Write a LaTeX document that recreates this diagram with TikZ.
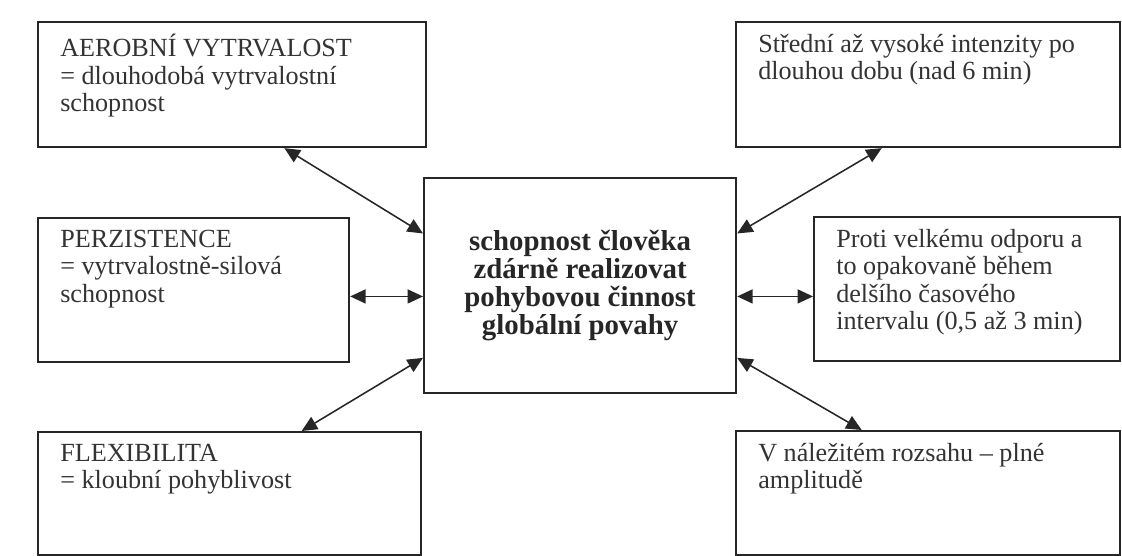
\documentclass[tikz,border=0pt]{standalone}
\usepackage{fontspec}
\setmainfont{Liberation Serif}
\usetikzlibrary{arrows.meta,positioning,calc}

\begin{document}
\begin{tikzpicture}[x=0.025cm,y=-0.025cm,
        box/.style={draw=black!85,line width=1.5pt,inner sep=0pt,anchor=north west},
        txt/.style={anchor=north west,align=left,inner sep=0pt,text=black!80,font=\fontsize{18.6}{19.4}\selectfont},
        link/.style={{Triangle[length=11pt,width=10pt]}-{Triangle[length=11pt,width=10pt]},line width=1.1pt,draw=black!85}]

        \useasboundingbox (0,0) rectangle (1122,556);

        % boxes
        \node[box,minimum width=9.7cm,minimum height=3.125cm] (aer) at (37,21) {};
        \node[box,minimum width=7.775cm,minimum height=3.6cm] (perz) at (37,217) {};
        \node[box,minimum width=9.575cm,minimum height=3.075cm] (flex) at (37,431) {};
        \node[box,minimum width=7.8cm,minimum height=5.375cm] (ctr) at (423,177) {};
        \node[box,minimum width=9.6cm,minimum height=3.125cm] (tr) at (735,21) {};
        \node[box,minimum width=7.65cm,minimum height=3.6cm] (rm) at (813,216) {};
        \node[box,minimum width=9.6cm,minimum height=3.1cm] (br) at (735,430) {};

        % texts
        \node[txt] (aertxt) at ($(aer.north west)+(23,13)$) {AEROBNÍ VYTRVALOST\\= dlouhodobá vytrvalostní\\schopnost};
        \node[txt] (perztxt) at ($(perz.north west)+(23,13)$) {PERZISTENCE\\= vytrvalostně-silová\\schopnost};
        \node[txt] (flextxt) at ($(flex.north west)+(23,13)$) {FLEXIBILITA\\= kloubní pohyblivost};
        \node[txt] (trtxt) at ($(tr.north west)+(23,13)$) {Střední až vysoké intenzity po\\dlouhou dobu (nad 6 min)};
        \node[txt] (rmtxt) at ($(rm.north west)+(23,13)$) {Proti velkému odporu a\\to opakovaně během\\delšího časového\\intervalu (0,5 až 3 min)};
        \node[txt] (brtxt) at ($(br.north west)+(23,13)$) {V náležitém rozsahu -- plné\\amplitudě};
        \node[align=center,inner sep=0pt,text=black!85,font=\bfseries\fontsize{20.5}{20}\selectfont] (ctrtxt) at (ctr.center) {schopnost člověka\\zdárně realizovat\\pohybovou činnost\\globální povahy};

        % arrows
        \coordinate (cl1) at ($(ctr.north west)!0.26!(ctr.south west)$);
        \coordinate (cl2) at ($(ctr.north west)!0.55!(ctr.south west)$);
        \coordinate (cl3) at ($(ctr.north west)!0.833!(ctr.south west)$);
        \coordinate (cr1) at ($(ctr.north east)!0.26!(ctr.south east)$);
        \coordinate (cr2) at ($(ctr.north east)!0.55!(ctr.south east)$);
        \coordinate (cr3) at ($(ctr.north east)!0.833!(ctr.south east)$);

        \draw[link] ($(aer.south west)!0.634!(aer.south east)$) -- (cl1);
        \draw[link] (perz.east |- cl2) -- (cl2);
        \draw[link] ($(flex.north west)!0.687!(flex.north east)$) -- (cl3);
        \draw[link] ($(tr.south west)!0.38!(tr.south east)$) -- (cr1);
        \draw[link] (rm.west |- cr2) -- (cr2);
        \draw[link] ($(br.north west)!0.328!(br.north east)$) -- (cr3);

\end{tikzpicture}
\end{document}
